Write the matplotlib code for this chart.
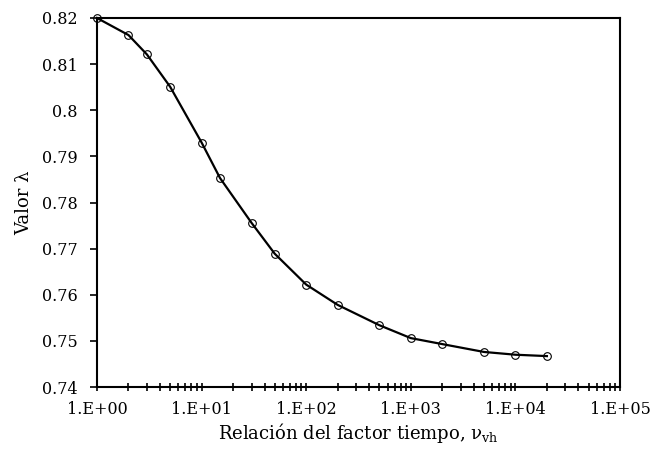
import math
import matplotlib
matplotlib.use("Agg")
import matplotlib.pyplot as plt
from matplotlib.ticker import LogLocator, FixedLocator, FuncFormatter

# data
ratio = [1, 2, 3, 5, 10, 15, 30, 50, 100, 200, 500, 1000, 2000, 5000, 10000, 20000]
lam = [0.8200, 0.8163, 0.8121, 0.8051, 0.7930, 0.7853, 0.7756, 0.7689,
       0.7622, 0.7578, 0.7534, 0.7506, 0.7493, 0.7476, 0.7470, 0.7467]
yticks = [0.74, 0.75, 0.76, 0.77, 0.78, 0.79, 0.80, 0.81, 0.82]
ytick_labels = ["0.74", "0.75", "0.76", "0.77", "0.78", "0.79", "0.8", "0.81", "0.82"]

plt.rcParams["font.family"] = ["DejaVu Serif"]
plt.rcParams["mathtext.fontset"] = "dejavuserif"

fig = plt.figure(figsize=(6.5, 4.67), dpi=100)
ax = fig.add_axes([97 / 650, 80 / 467, 523 / 650, 369 / 467])

ax.plot(ratio, lam, color="black", lw=1.6, marker="o", ms=5.5,
        mfc="none", mec="black", mew=0.8, clip_on=False, zorder=3)

ax.set_xscale("log")
ax.set_xlim(1, 1e5)
ax.set_ylim(0.74, 0.82)

ax.xaxis.set_major_locator(LogLocator(base=10, numticks=10))
ax.xaxis.set_minor_locator(LogLocator(base=10, subs=range(2, 10), numticks=100))
ax.xaxis.set_major_formatter(FuncFormatter(lambda v, p: "1.E+%02d" % round(math.log10(v))))
ax.xaxis.set_minor_formatter(FuncFormatter(lambda v, p: ""))
ax.yaxis.set_major_locator(FixedLocator(yticks))
ax.set_yticklabels(ytick_labels)

for s in ax.spines.values():
    s.set_linewidth(1.5)
ax.tick_params(axis="x", which="both", direction="inout", length=6, width=1.2,
               labelsize=11.5, pad=7)
ax.tick_params(axis="y", which="major", direction="out", length=5, width=1.2,
               labelsize=11.5, pad=9)

ax.set_xlabel("Relación del factor tiempo, ν$_{\\mathrm{vh}}$", fontsize=13, labelpad=2)
ax.set_ylabel("Valor λ", fontsize=13, labelpad=6)

fig.savefig("out.png", dpi=100)
